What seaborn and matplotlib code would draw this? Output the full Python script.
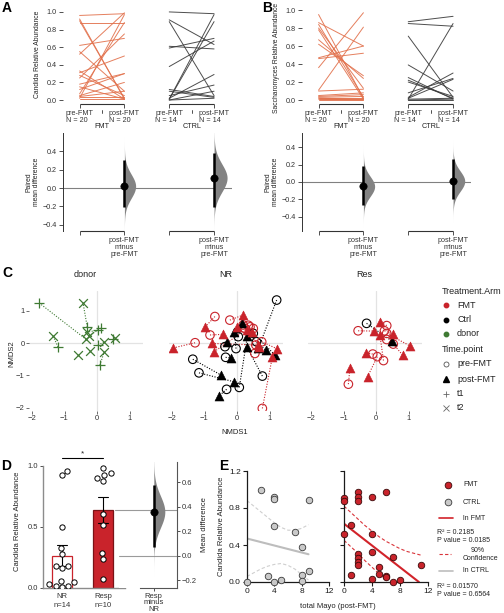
import numpy as np
import pandas as pd
import matplotlib
matplotlib.use("Agg")
import matplotlib.pyplot as plt
import seaborn as sns

sns.set_theme(style="white")
plt.rcParams["font.family"] = ["Liberation Sans", "DejaVu Sans"]
plt.rcParams["axes.linewidth"] = 0.8

W, H = 504, 613

FMT_LINE = "#E2714C"
CTRL_LINE = "#3A3A3A"
RED = "#C9232B"
GREEN = "#3F7A33"
INK = "#222222"

# ---- A : Candida, paired pre/post-FMT ----
a_fmt_pre = [0.96, 0.92, 0.90, 0.87, 0.62, 0.55, 0.52, 0.33, 0.31, 0.28,
             0.25, 0.18, 0.15, 0.12, 0.07, 0.05, 0.04, 0.02, 0.01, 0.03]
a_fmt_post = [0.98, 0.01, 0.02, 0.87, 0.70, 0.10, 0.99, 0.01, 0.50, 0.05,
              0.75, 0.30, 0.01, 0.30, 0.88, 0.20, 0.10, 0.97, 0.01, 0.03]
a_ctrl_pre = [1.00, 0.91, 0.89, 0.61, 0.59, 0.38, 0.12, 0.10, 0.05, 0.02, 0.01, 0.01, 0.00, 0.00]
a_ctrl_post = [0.98, 0.63, 0.05, 0.58, 0.70, 0.67, 0.04, 0.03, 0.17, 0.29, 0.97, 0.89, 0.10, 0.02]
# paired mean difference: (mean, ci low, ci high) for FMT and CTRL
a_effects = [(0.02, -0.21, 0.30), (0.11, -0.21, 0.38)]

# ---- B : Saccharomyces ----
b_fmt_pre = [0.95, 0.86, 0.84, 0.80, 0.78, 0.67, 0.62, 0.47, 0.46, 0.36,
             0.11, 0.10, 0.05, 0.04, 0.03, 0.02, 0.02, 0.01, 0.01, 0.00]
b_fmt_post = [0.02, 0.60, 0.03, 0.13, 0.01, 0.24, 0.27, 0.60, 0.52, 0.97,
              0.81, 0.12, 0.08, 0.06, 0.04, 0.02, 0.01, 0.00, 0.01, 0.00]
b_ctrl_pre = [0.87, 0.85, 0.71, 0.39, 0.25, 0.22, 0.20, 0.08, 0.03, 0.02, 0.01, 0.01, 0.00, 0.00]
b_ctrl_post = [0.93, 0.82, 0.03, 0.10, 0.01, 0.02, 0.04, 0.24, 0.30, 0.23, 0.85, 0.02, 0.01, 0.00]
b_effects = [(-0.05, -0.27, 0.18), (0.01, -0.20, 0.26)]

# ---- C : NMDS ordination ----
donor_t1_x = [-1.78, -1.20, -0.30, 0.03, 0.12, 0.03, 0.09, 0.50]
donor_t1_y = [1.24, -0.12, 0.50, 0.40, 0.46, -0.06, -0.68, 0.12]
donor_t2_x = [-0.34, -1.35, -0.43, -0.30, -0.25, 0.22, 0.22, 0.55, -0.58, -0.22]
donor_t2_y = [0.12, 0.22, 1.24, 0.34, 0.22, 0.03, -0.28, 0.15, -0.37, -0.25]

nr_fmt_pre_x = [-1.29, -0.83, -0.68, -0.22, 0.19, 0.35, 0.50, 0.58, 0.78, 0.55, 0.76, 0.40, 0.25]
nr_fmt_pre_y = [0.01, 0.25, 0.82, 0.71, 0.56, 0.55, 0.45, -0.06, -2.02, -0.32, 0.04, 0.50, 0.45]
nr_fmt_post_x = [-1.96, -0.44, -0.98, 0.19, -0.01, 0.45, 0.30, -0.78, 1.09, 0.69, 1.22, -0.71, 0.66]
nr_fmt_post_y = [-0.15, 0.27, 0.50, 0.87, 0.50, 0.35, 0.40, -0.01, -0.42, -0.11, -0.17, -0.27, -0.06]
nr_ctrl_pre_x = [-1.36, -1.17, -0.32, 0.07, -0.35, -0.37, -0.03, 0.04, 0.78, 0.60, 1.22, 0.50]
nr_ctrl_pre_y = [-0.50, -0.92, -1.43, -1.37, -0.44, -0.11, -0.17, 0.20, -1.02, 0.04, 1.33, 0.30]
nr_ctrl_post_x = [-0.49, -0.08, -0.55, 0.32, -0.18, -0.32, -0.08, 0.14, 0.30, 0.89, 0.66, 1.17]
nr_ctrl_post_y = [-0.99, -1.20, -1.63, 0.22, -0.47, 0.04, 0.35, 0.61, -0.11, -0.22, -0.16, -0.37]

res_fmt_pre_x = [-0.55, 0.33, 0.26, 0.33, 0.53, -0.10, 0.04, 0.23, -0.85, 0.33]
res_fmt_pre_y = [0.38, 0.54, 0.38, 0.30, -0.03, -0.34, -0.42, -0.54, -1.27, 0.11]
res_fmt_post_x = [-0.05, 0.12, 0.51, 1.05, 0.82, -0.31, -0.26, 0.12, -0.80]
res_fmt_post_y = [0.37, 0.66, 0.28, -0.09, -0.37, -0.30, -1.04, 0.25, -0.76]
res_ctrl_pre_x = [-0.29]
res_ctrl_pre_y = [0.61]
res_ctrl_post_x = [0.48]
res_ctrl_post_y = [0.07]

# ---- D : Candida by response ----
d_nr = [0.96, 0.93, 0.50, 0.33, 0.28, 0.18, 0.18, 0.16, 0.06, 0.05, 0.03, 0.02, 0.02, 0.01]
d_resp = [0.98, 0.94, 0.90, 0.93, 0.88, 0.61, 0.52, 0.29, 0.24, 0.07]
d_effect = (0.36, 0.07, 0.58)

# ---- E : Candida vs total Mayo ----
e_ctrl_mayo = [2, 4, 4, 9, 4, 7, 8, 9, 8, 3, 5, 4, 8, 0]
e_ctrl_abund = [1.00, 0.92, 0.90, 0.89, 0.61, 0.54, 0.38, 0.12, 0.08, 0.07, 0.02, 0.00, 0.01, 0.00]
e_fmt_mayo = [0, 0, 2, 2, 2, 4, 6, 1, 0, 4, 2, 2, 2, 2, 4, 7, 5, 5, 1, 6, 6, 4, 7, 8, 11]
e_fmt_abund = [0.91, 0.88, 0.97, 0.92, 0.88, 0.92, 0.97, 0.62, 0.52, 0.52, 0.30, 0.26, 0.22,
               0.18, 0.32, 0.27, 0.16, 0.09, 0.08, 0.06, 0.05, 0.03, 0.00, 0.02, 0.18]
ctrl_fit_x = [0, 9]
ctrl_fit_y = [0.47, 0.30]
ctrl_band_x = [0, 1, 2, 3, 4, 5, 6, 7, 8, 9]
ctrl_band_hi = [0.88, 0.82, 0.76, 0.70, 0.64, 0.59, 0.56, 0.56, 0.58, 0.62]
ctrl_band_lo = [0.06, 0.10, 0.14, 0.17, 0.19, 0.20, 0.18, 0.14, 0.08, 0.02]
fmt_fit_x = [0, 10.7]
fmt_fit_y = [0.63, 0.0]
fmt_band_hi_x = [0, 1, 2, 3, 4, 5, 6, 7, 8, 9, 10, 11]
fmt_band_hi = [0.82, 0.75, 0.68, 0.61, 0.55, 0.49, 0.44, 0.40, 0.36, 0.33, 0.31, 0.29]
fmt_band_lo_x = [0, 1, 2, 3, 4, 5, 6, 6.3]
fmt_band_lo = [0.45, 0.38, 0.31, 0.23, 0.16, 0.09, 0.02, 0.0]


def px_axes(fig, x0, y0, x1, y1):
    return fig.add_axes([x0 / W, 1 - y1 / H, (x1 - x0) / W, (y1 - y0) / H])


def slope_top(ax, fmt_pre, fmt_post, ctrl_pre, ctrl_post, ylim, ylabel, label_y):
    rows = []
    for grp, pre, post, x0 in (("FMT", fmt_pre, fmt_post, 0), ("CTRL", ctrl_pre, ctrl_post, 2)):
        for i, (a, b) in enumerate(zip(pre, post)):
            rows += [(grp, f"{grp}{i}", x0, a), (grp, f"{grp}{i}", x0 + 1, b)]
    df = pd.DataFrame(rows, columns=["group", "subject", "pos", "value"])
    sns.lineplot(data=df, x="pos", y="value", hue="group", units="subject", estimator=None,
                 palette={"FMT": FMT_LINE, "CTRL": CTRL_LINE}, lw=0.7, alpha=0.9,
                 legend=False, ax=ax)
    ax.set_xlim(-0.37, 3.4)
    ax.set_ylim(*ylim)
    ax.set_yticks([0, 0.2, 0.4, 0.6, 0.8, 1.0])
    ax.set_xticks([0, 1, 2, 3])
    ax.set_xticklabels([f"pre-FMT\nN = {len(fmt_pre)}", f"post-FMT\nN = {len(fmt_post)}",
                        f"pre-FMT\nN = {len(ctrl_pre)}", f"post-FMT\nN = {len(ctrl_post)}"],
                       linespacing=1.05)
    for t in ax.get_xticklabels():
        t.set_multialignment("left")
    ax.set_xlabel("")
    ax.set_ylabel(ylabel, fontsize=4.9, color=INK)
    ax.yaxis.set_label_coords(-0.13, label_y)
    for s in ax.spines.values():
        s.set_visible(False)
    ax.tick_params(bottom=True, left=True, length=3, width=0.6, colors="#333333",
                   labelsize=5.2, pad=1.5)
    ax.hlines(ylim[0], 0, 1, color="#333333", lw=0.8, clip_on=False)
    ax.hlines(ylim[0], 2, 3, color="#333333", lw=0.8, clip_on=False)
    tr = ax.get_xaxis_transform()
    for xc, name in ((0.5, "FMT"), (2.5, "CTRL")):
        ax.plot([xc, xc], [-0.055, -0.085], transform=tr, color="#333333", lw=0.6, clip_on=False)
        ax.text(xc, -0.225, name, transform=tr, ha="center", va="center", fontsize=5.2, color=INK)


def slope_diff(ax, effects, ylim, widths):
    ax.axhline(0, color="#808080", lw=0.8, zorder=0)
    for pos, (m, lo, hi), hw in zip((1, 3), effects, widths):
        sd = (hi - lo) / 3.92
        yy = np.linspace(m - 4.5 * sd, m + 4.5 * sd, 300)
        ax.fill_betweenx(yy, pos, pos + hw * np.exp(-0.5 * ((yy - m) / sd) ** 2),
                         color="#838383", lw=0, zorder=1)
        ax.vlines(pos, lo, hi, color="black", lw=1.8, zorder=2)
    sns.scatterplot(x=[1, 3], y=[e[0] for e in effects], color="black", edgecolor="black",
                    s=28, ax=ax, zorder=3, legend=False)
    ax.set_xlim(-0.37, 3.4)
    ax.set_ylim(*ylim)
    ax.set_yticks([-0.4, -0.2, 0.0, 0.2, 0.4])
    ax.set_xticks([0, 1, 2, 3])
    ax.set_xticklabels(["", "post-FMT\nminus\npre-FMT", "", "post-FMT\nminus\npre-FMT"],
                       linespacing=1.0)
    for s in ("top", "right", "bottom"):
        ax.spines[s].set_visible(False)
    ax.spines["left"].set_color("#333333")
    ax.spines["left"].set_linewidth(0.7)
    ax.tick_params(bottom=True, left=True, length=3, width=0.6, colors="#333333",
                   labelsize=5.2, pad=1.5)
    ax.hlines(ylim[0], 0, 1, color="#333333", lw=0.8, clip_on=False)
    ax.hlines(ylim[0], 2, 3, color="#333333", lw=0.8, clip_on=False)
    ax.set_ylabel("Paired\nmean difference", fontsize=4.9, labelpad=2, color=INK, linespacing=1.0)


def seg_frame(px, py, qx, qy):
    rows = []
    for i in range(min(len(px), len(qx))):
        rows += [(i, px[i], py[i]), (i, qx[i], qy[i])]
    return pd.DataFrame(rows, columns=["pair", "x", "y"])


def draw_pairs(ax, col, pre_x, pre_y, post_x, post_y, m_pre, m_post, open_pre):
    sns.lineplot(data=seg_frame(pre_x, pre_y, post_x, post_y), x="x", y="y", units="pair",
                 estimator=None, sort=False, color=col, lw=0.8, linestyle=(0, (1, 1.4)),
                 ax=ax, zorder=1)
    if open_pre:
        sns.scatterplot(x=pre_x, y=pre_y, marker=m_pre, s=38, color=col, facecolor="none",
                        edgecolor=col, linewidth=0.8, ax=ax, zorder=2)
    else:
        sns.scatterplot(x=pre_x, y=pre_y, marker=m_pre, s=46, color=col, linewidth=0.9,
                        ax=ax, zorder=2)
    if m_post in ("+", "x"):
        sns.scatterplot(x=post_x, y=post_y, marker=m_post, s=40, color=col, linewidth=0.9,
                        ax=ax, zorder=3)
    else:
        sns.scatterplot(x=post_x, y=post_y, marker=m_post, s=42, color=col, edgecolor=col,
                        linewidth=0.4, ax=ax, zorder=3)


def facet_style(ax, title, show_y):
    ax.axhline(0, color="#E3E3E3", lw=0.9, zorder=0)
    ax.axvline(0, color="#E3E3E3", lw=0.9, zorder=0)
    ax.set_xlim(-2.1, 1.4)
    ax.set_ylim(-2.1, 1.61)
    ax.set_xticks([-2, -1, 0, 1])
    ax.set_yticks([-2, -1, 0, 1])
    if not show_y:
        ax.set_yticklabels([])
    for s in ax.spines.values():
        s.set_visible(False)
    ax.tick_params(bottom=True, left=show_y, length=2, width=0.5, colors="#333333",
                   labelsize=5.5, pad=1)
    ax.set_xlabel("")
    ax.set_ylabel("")
    ax.set_title(title, fontsize=6.5, pad=10, color=INK)


fig = plt.figure(figsize=(W / 100, H / 100), dpi=100)

# ---------------- A ----------------
axA = px_axes(fig, 63, 4, 232, 104)
slope_top(axA, a_fmt_pre, a_fmt_post, a_ctrl_pre, a_ctrl_post, (-0.045, 1.09),
          "Candida Relative Abundance", 0.5)
axA2 = px_axes(fig, 63, 133, 232, 231)
slope_diff(axA2, a_effects, (-0.467, 0.598), (0.25, 0.29))

# ---------------- B ----------------
axB = px_axes(fig, 302, 4, 471, 104)
slope_top(axB, b_fmt_pre, b_fmt_post, b_ctrl_pre, b_ctrl_post, (-0.044, 1.067),
          "Saccharomyces Relative Abundance", 0.46)
axB2 = px_axes(fig, 302, 133, 471, 231)
slope_diff(axB2, b_effects, (-0.563, 0.563), (0.25, 0.26))

# ---------------- C ----------------
axC1 = px_axes(fig, 28.75, 291, 142.5, 411)
axC2 = px_axes(fig, 168.75, 291, 282.5, 411)
axC3 = px_axes(fig, 307.75, 291, 421.5, 411)
draw_pairs(axC1, GREEN, donor_t1_x, donor_t1_y, donor_t2_x, donor_t2_y, "+", "x", False)
draw_pairs(axC2, "black", nr_ctrl_pre_x, nr_ctrl_pre_y, nr_ctrl_post_x, nr_ctrl_post_y, "o", "^", True)
draw_pairs(axC2, RED, nr_fmt_pre_x, nr_fmt_pre_y, nr_fmt_post_x, nr_fmt_post_y, "o", "^", True)
draw_pairs(axC3, "black", res_ctrl_pre_x, res_ctrl_pre_y, res_ctrl_post_x, res_ctrl_post_y, "o", "^", True)
draw_pairs(axC3, RED, res_fmt_pre_x, res_fmt_pre_y, res_fmt_post_x, res_fmt_post_y, "o", "^", True)
facet_style(axC1, "donor", True)
facet_style(axC2, "NR", False)
facet_style(axC3, "Res", False)
fig.text(235 / W, 1 - 433 / H, "NMDS1", ha="center", va="center", fontsize=5.5, color=INK)
fig.text(12 / W, 1 - 354 / H, "NMDS2", ha="center", va="center", rotation=90, fontsize=5.5, color=INK)

# ---------------- D ----------------
axD = px_axes(fig, 43, 455, 125, 588)
d_df = pd.DataFrame({"group": ["NR"] * len(d_nr) + ["Resp"] * len(d_resp),
                     "abund": d_nr + d_resp})
sns.barplot(data=d_df, x="group", y="abund", hue="group", order=["NR", "Resp"],
            hue_order=["NR", "Resp"], palette={"NR": "white", "Resp": RED}, saturation=1,
            errorbar="se", capsize=0.25, width=0.5, legend=False,
            err_kws={"color": "black", "linewidth": 0.8}, ax=axD)
for p, ec in zip(axD.patches, [RED, "#7A1216"]):
    p.set_edgecolor(ec)
    p.set_linewidth(0.9)
sns.swarmplot(data=d_df, x="group", y="abund", order=["NR", "Resp"], color="white",
              edgecolor="black", linewidth=0.7, size=3.8, ax=axD, zorder=4)
axD.set_xlim(-0.463, 1.537)
axD.set_ylim(0, 1.09)
axD.set_yticks([0, 0.5, 1.0])
axD.set_yticklabels(["0.0", "0.5", "1.0"])
axD.set_xticks([0, 1])
axD.set_xticklabels([f"NR\nn={len(d_nr)}", f"Resp\nn={len(d_resp)}"], linespacing=1.5)
axD.spines["left"].set_bounds(0, 1)
for s in ("top", "right"):
    axD.spines[s].set_visible(False)
for s in ("left", "bottom"):
    axD.spines[s].set_color("#8C8C8C")
    axD.spines[s].set_linewidth(1.0)
axD.tick_params(bottom=False, left=True, length=2, width=0.6, colors="#333333",
                labelsize=5.5, pad=1.5)
axD.set_xlabel("")
axD.set_ylabel("Candida Relative Abundance", fontsize=5.5, labelpad=5, color=INK)
axD.plot([0, 1], [1.066, 1.066], color="black", lw=0.8, clip_on=False)
axD.text(0.5, 1.07, "*", ha="center", va="bottom", fontsize=6, color=INK)

nr_mean, resp_mean = np.mean(d_nr), np.mean(d_resp)
axDd = px_axes(fig, 119, 462, 177, 588)
d_scale = (588 - 455) / 1.09
axDd.set_ylim(-nr_mean, (588 - 462) / d_scale - nr_mean)
axDd.set_xlim(-0.6, 0.4)
m, lo, hi = d_effect
sd = (hi - lo) / 3.92
yy = np.linspace(m - 4.5 * sd, m + 4.5 * sd, 300)
axDd.fill_betweenx(yy, 0, 0.19 * np.exp(-0.5 * ((yy - m) / sd) ** 2), color="#838383", lw=0, zorder=1)
axDd.vlines(0, lo, hi, color="black", lw=1.8, zorder=2)
sns.scatterplot(x=[0], y=[m], color="black", edgecolor="black", s=28, ax=axDd, zorder=3)
axDd.axhline(0, color="#9A9A9A", lw=0.8, zorder=0)
axDd.axhline(resp_mean - nr_mean, xmin=-0.07, color="#9A9A9A", lw=0.8, zorder=0, clip_on=False)
axDd.yaxis.tick_right()
axDd.yaxis.set_label_position("right")
axDd.set_yticks([-0.2, 0.0, 0.2, 0.4, 0.6])
axDd.set_xticks([0])
axDd.set_xticklabels(["Resp\nminus\nNR"], linespacing=0.9)
axDd.spines["left"].set_visible(False)
axDd.spines["top"].set_visible(False)
axDd.spines["bottom"].set_bounds(-0.24, 0.4)
for s in ("right", "bottom"):
    axDd.spines[s].set_color("#555555")
    axDd.spines[s].set_linewidth(0.8)
axDd.tick_params(bottom=True, right=True, left=False, length=2, width=0.6, colors="#333333",
                 labelsize=5.5, pad=1.5)
axDd.set_ylabel("Mean difference", fontsize=5.5, labelpad=3, color=INK)

# ---------------- E ----------------
axE1 = px_axes(fig, 247, 471, 329, 582)
axE2 = px_axes(fig, 344, 471, 428, 582)
sns.lineplot(x=ctrl_band_x, y=ctrl_band_hi, color="#CFCFCF", lw=0.8, linestyle=(0, (3, 2)), ax=axE1)
sns.lineplot(x=ctrl_band_x, y=ctrl_band_lo, color="#CFCFCF", lw=0.8, linestyle=(0, (3, 2)), ax=axE1)
sns.lineplot(x=ctrl_fit_x, y=ctrl_fit_y, color="#BDBDBD", lw=1.5, ax=axE1)
sns.scatterplot(x=e_ctrl_mayo, y=e_ctrl_abund, color="#C9C9C9", edgecolor="#3A3A3A",
                s=22, linewidth=0.6, ax=axE1, zorder=3, clip_on=False)
sns.lineplot(x=fmt_band_hi_x, y=fmt_band_hi, color="#D9343A", lw=0.8, linestyle=(0, (3, 2)), ax=axE2)
sns.lineplot(x=fmt_band_lo_x, y=fmt_band_lo, color="#D9343A", lw=0.8, linestyle=(0, (3, 2)), ax=axE2)
sns.lineplot(x=fmt_fit_x, y=fmt_fit_y, color="#D2232A", lw=1.5, ax=axE2)
sns.scatterplot(x=e_fmt_mayo, y=e_fmt_abund, color=RED, edgecolor="#3A0A0A",
                s=22, linewidth=0.6, ax=axE2, zorder=3, clip_on=False)
for ax in (axE1, axE2):
    ax.set_xlim(0, 12)
    ax.set_ylim(0, 1.2)
    ax.set_xticks([0, 4, 8, 12])
    ax.set_yticks([0, 0.4, 0.8, 1.2])
    for s in ("top", "right"):
        ax.spines[s].set_visible(False)
    for s in ("left", "bottom"):
        ax.spines[s].set_color("#1A1A1A")
        ax.spines[s].set_linewidth(0.9)
    ax.tick_params(bottom=True, left=True, length=3, width=0.8, colors="#1A1A1A",
                   labelsize=6, pad=1.5)
    ax.set_xlabel("")
    ax.set_ylabel("")
axE1.set_yticklabels(["0.0", "0.4", "0.8", "1.2"])
axE2.set_yticklabels([])
axE1.set_ylabel("Candida Relative Abundance", fontsize=5.5, labelpad=3, color=INK)
fig.text(338 / W, 1 - 607 / H, "total Mayo (post-FMT)", ha="center", va="center",
         fontsize=5.5, color=INK)

# ---------------- overlay: letters and legends ----------------
ov = fig.add_axes([0, 0, 1, 1], zorder=10)
ov.set_xlim(0, W)
ov.set_ylim(H, 0)
ov.axis("off")
for x, y, letter in ((2, 1, "A"), (262, 1, "B"), (2, 266, "C"), (1, 459, "D"), (219, 459, "E")):
    ov.text(x, y, letter, fontsize=10, fontweight="bold", va="top", ha="left", color="black")

ov.text(442, 291, "Treatment.Arm", fontsize=6.5, va="center", color=INK)
for y, lab, col in ((305, "FMT", RED), (320, "Ctrl", "black"), (334, "donor", GREEN)):
    ov.plot(445.5, y, "o", ms=3.2, color=col)
    ov.text(457, y, lab, fontsize=6.5, va="center", color=INK)
ov.text(442, 349, "Time.point", fontsize=6.5, va="center", color=INK)
for y, lab, mk in ((364, "pre-FMT", "o"), (379, "post-FMT", "^"), (394, "t1", "+"), (408, "t2", "x")):
    if mk == "o":
        ov.plot(445.5, y, mk, ms=3.6, mfc="none", mec="#555555", mew=0.6)
    elif mk == "^":
        ov.plot(445.5, y, mk, ms=4, color="black")
    else:
        ov.plot(445.5, y, mk, ms=4, color="#666666", mew=0.6)
    ov.text(457, y, lab, fontsize=6.5, va="center", color=INK)

ov.plot(447.7, 485, "o", ms=4.8, mfc=RED, mec="#3A0A0A", mew=0.6)
ov.text(463, 485, "FMT", fontsize=5, va="center", color=INK)
ov.plot(447.7, 502, "o", ms=4.8, mfc="#C9C9C9", mec="#3A3A3A", mew=0.6)
ov.text(463, 502, "CTRL", fontsize=5, va="center", color=INK)
ov.plot([439, 453], [518, 518], color="#D2232A", lw=1.2)
ov.text(463, 518, "ln FMT", fontsize=5, va="center", color=INK)
ov.text(437, 532, "R² = 0.2185", fontsize=5, va="center", color=INK)
ov.text(437, 540, "P value = 0.0185", fontsize=5, va="center", color=INK)
ov.plot([439, 451], [554, 554], color="#D9343A", lw=0.8, linestyle=(0, (3, 2)))
ov.text(478, 550, "90%", fontsize=5, va="center", ha="center", color=INK)
ov.text(463, 559, "Confidence", fontsize=5, va="center", color=INK)
ov.plot([439, 453], [571, 571], color="#BDBDBD", lw=1.2)
ov.text(463, 571, "ln CTRL", fontsize=5, va="center", color=INK)
ov.text(437, 586, "R² = 0.01570", fontsize=5, va="center", color=INK)
ov.text(437, 594, "P value = 0.6564", fontsize=5, va="center", color=INK)

fig.savefig("out.png", dpi=100)
